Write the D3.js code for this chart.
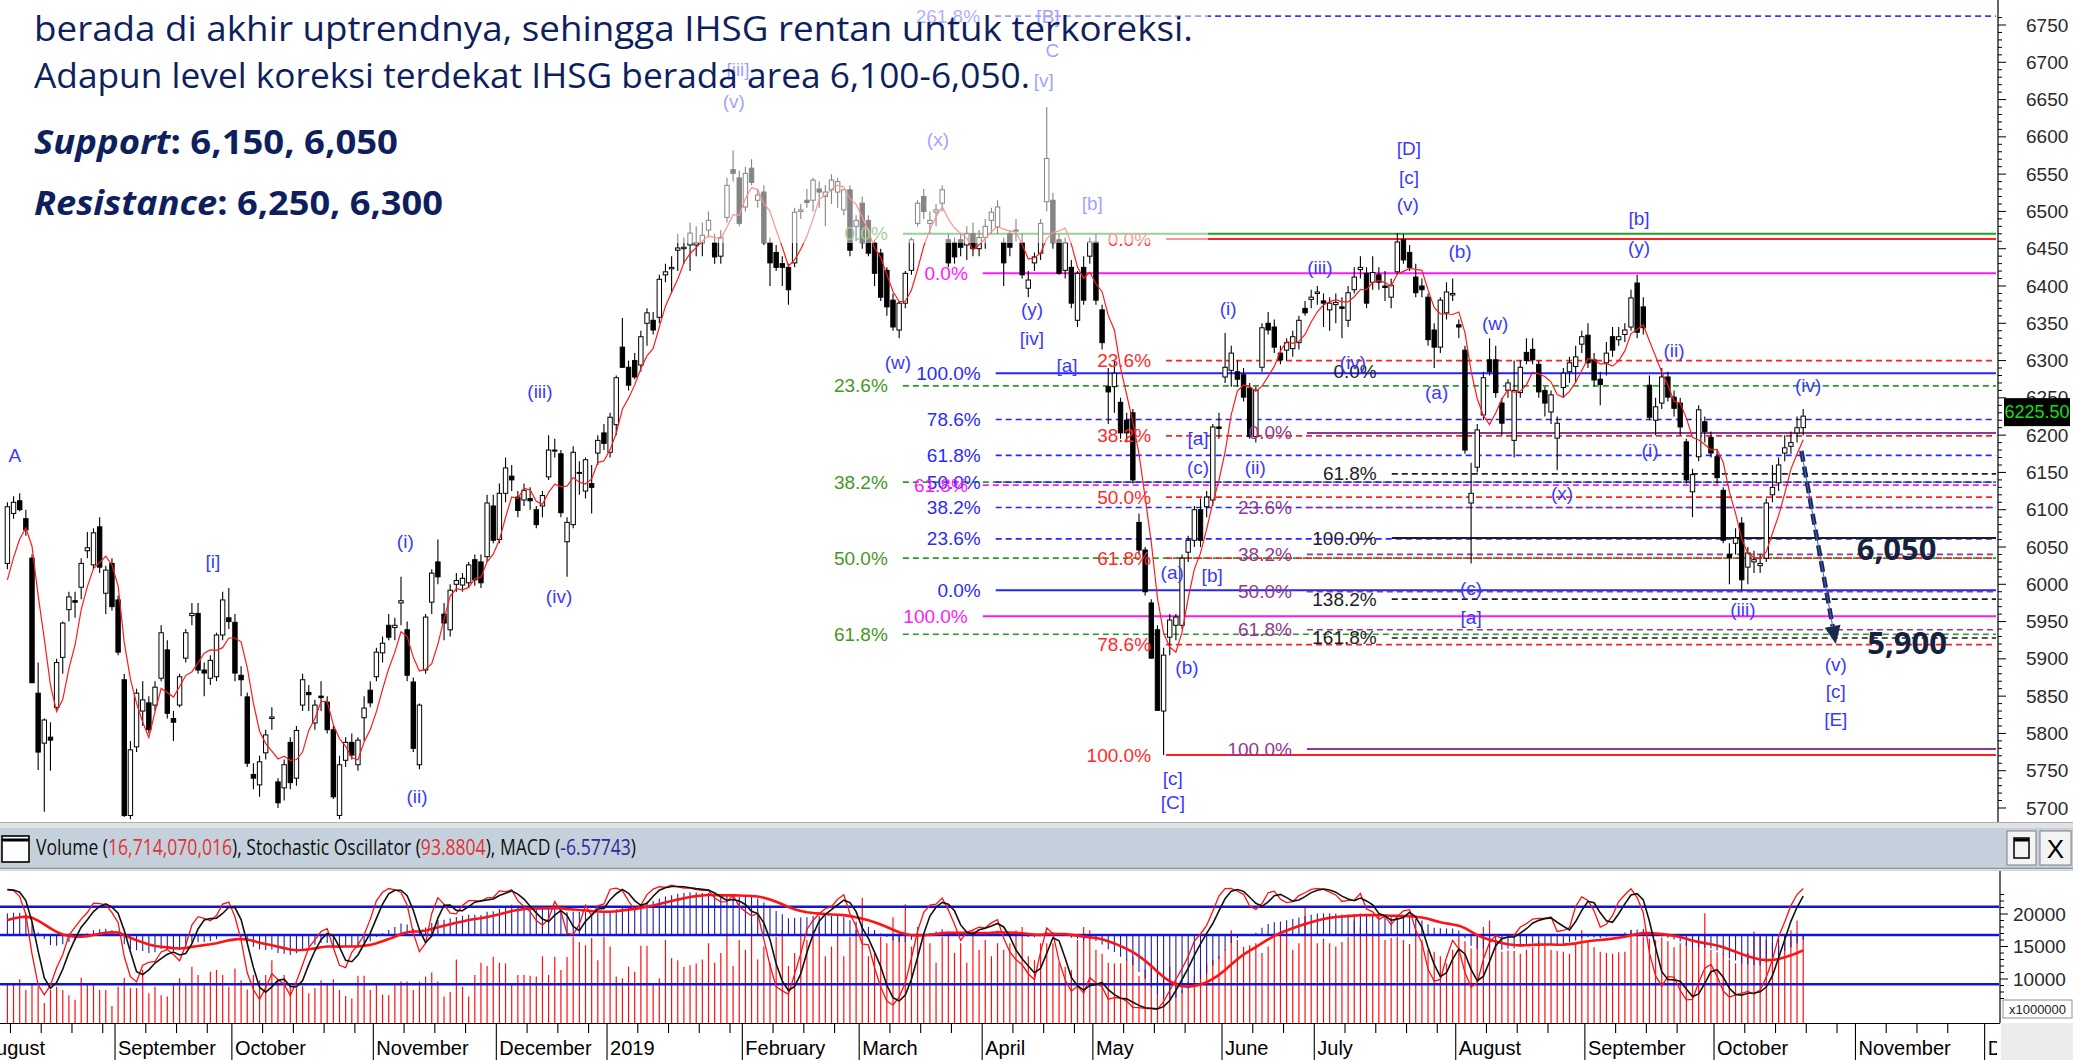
<!DOCTYPE html>
<html><head><meta charset="utf-8"><title>IHSG</title>
<script src="https://cdn.jsdelivr.net/npm/d3@7/dist/d3.min.js"></script>
<style>html,body{margin:0;padding:0;background:#fff;overflow:hidden}svg{display:block}</style>
</head><body>
<svg id="chart" width="2073" height="1060" xmlns="http://www.w3.org/2000/svg"></svg>
<script>
// ---------------- DATA ----------------
// daily candles [open, high, low, close], trading-day index 0..292 (Aug 2018 - 18 Oct 2019)
const ohlc = [
[6028,6110,6020,6104],[6095,6118,6088,6110],[6112,6122,6098,6100],[6088,6100,6065,6073],[6035,6040,5868,5868],
[5854,5895,5751,5775],[5787,5820,5695,5818],[5795,5815,5750,5791],[5835,5900,5830,5895],[5902,5950,5880,5948],
[5966,5990,5950,5983],[5978,5990,5955,5976],[5996,6035,5980,6028],[6045,6070,6035,6049],[6026,6075,6020,6069],
[6077,6090,6015,6023],[5988,6025,5960,6019],[6028,6035,5965,5970],[5979,5985,5905,5909],[5872,5880,5688,5690],
[5690,5790,5685,5778],[5782,5860,5775,5854],[5830,5870,5810,5845],[5841,5850,5800,5805],[5838,5870,5830,5862],
[5874,5945,5870,5935],[5912,5925,5820,5827],[5820,5830,5790,5815],[5838,5880,5835,5876],[5901,5940,5895,5935],
[5958,5975,5945,5961],[5961,5975,5880,5885],[5885,5895,5850,5881],[5874,5905,5865,5898],[5876,5935,5870,5932],
[5932,5990,5925,5979],[5955,5995,5940,5950],[5949,5960,5870,5881],[5878,5890,5850,5872],[5849,5855,5755,5760],
[5745,5760,5725,5740],[5731,5770,5715,5762],[5774,5805,5765,5798],[5820,5835,5805,5822],[5735,5740,5700,5707],
[5727,5765,5710,5758],[5788,5795,5725,5734],[5740,5810,5730,5804],[5838,5880,5830,5872],[5855,5865,5830,5852],
[5814,5845,5805,5838],[5850,5870,5830,5848],[5842,5850,5800,5805],[5805,5810,5712,5715],[5690,5770,5685,5758],
[5764,5795,5755,5788],[5788,5800,5765,5771],[5758,5795,5750,5791],[5821,5850,5790,5834],[5858,5870,5835,5841],
[5876,5915,5870,5909],[5908,5930,5895,5921],[5945,5960,5925,5929],[5942,5955,5925,5945],[5975,6010,5945,5978],
[5939,5950,5870,5878],[5869,5875,5775,5780],[5758,5840,5752,5838],[5885,5960,5880,5956],[5976,6020,5960,6015],
[6030,6060,6000,6010],[5960,5975,5925,5948],[5939,6000,5930,5992],[6000,6015,5990,6005],[5999,6015,5990,6008],
[6002,6030,5995,6026],[6033,6040,5998,6006],[6030,6040,5995,6002],[6037,6120,6030,6109],[6105,6120,6055,6059],
[6060,6135,6055,6122],[6122,6170,6110,6156],[6145,6160,6125,6140],[6117,6125,6090,6099],[6113,6135,6105,6126],
[6115,6130,6100,6112],[6100,6105,6075,6080],[6105,6125,6090,6119],[6144,6200,6140,6180],[6180,6195,6170,6180],
[6175,6180,6090,6096],[6057,6090,6010,6083],[6080,6185,6075,6177],[6150,6165,6120,6149],[6125,6170,6115,6167],
[6135,6160,6095,6130],[6176,6200,6160,6193],[6203,6215,6180,6189],[6177,6230,6170,6224],[6214,6280,6200,6277],
[6318,6357,6290,6291],[6291,6300,6260,6267],[6300,6310,6275,6278],[6294,6340,6285,6332],[6350,6370,6320,6364],
[6354,6365,6335,6341],[6358,6415,6350,6409],[6415,6430,6405,6419],[6423,6440,6390,6425],[6448,6470,6420,6451],
[6450,6465,6430,6452],[6455,6485,6420,6471],[6455,6480,6440,6458],[6458,6485,6440,6468],[6475,6500,6465,6488],
[6458,6470,6430,6439],[6440,6475,6430,6465],[6492,6545,6485,6535],[6556,6582,6540,6551],[6545,6555,6480,6484],
[6506,6560,6500,6551],[6558,6570,6535,6539],[6515,6530,6505,6522],[6526,6535,6455,6458],[6458,6465,6400,6431],
[6445,6455,6420,6425],[6430,6440,6400,6425],[6425,6430,6375,6395],[6431,6505,6425,6499],[6500,6510,6490,6502],
[6515,6530,6505,6512],[6515,6545,6500,6542],[6530,6540,6505,6526],[6520,6535,6480,6526],[6529,6550,6510,6542],
[6526,6545,6505,6540],[6502,6530,6495,6529],[6529,6535,6440,6448],[6480,6495,6460,6488],[6511,6520,6450,6458],
[6488,6495,6440,6444],[6458,6462,6400,6417],[6444,6450,6380,6385],[6421,6425,6360,6372],[6381,6390,6340,6345],
[6341,6380,6330,6377],[6377,6420,6370,6417],[6421,6465,6415,6462],[6484,6515,6480,6511],[6520,6530,6490,6500],
[6484,6500,6470,6488],[6499,6510,6480,6502],[6511,6535,6500,6529],[6462,6470,6425,6431],[6458,6465,6430,6439],
[6462,6470,6440,6452],[6455,6480,6435,6470],[6470,6485,6440,6450],[6450,6475,6440,6465],[6465,6490,6450,6480],
[6488,6505,6470,6499],[6479,6515,6470,6506],[6458,6465,6400,6431],[6470,6475,6440,6452],[6475,6490,6460,6475],
[6458,6470,6410,6415],[6397,6420,6385,6408],[6431,6445,6420,6439],[6444,6490,6435,6484],[6513,6640,6500,6571],
[6515,6525,6450,6458],[6462,6470,6415,6417],[6421,6465,6410,6458],[6425,6435,6370,6377],[6354,6420,6345,6417],
[6425,6440,6375,6381],[6440,6465,6430,6459],[6459,6470,6375,6381],[6368,6375,6315,6324],[6265,6290,6215,6258],
[6265,6300,6230,6283],[6244,6250,6195,6203],[6220,6230,6190,6203],[6230,6235,6135,6140],[6083,6095,6040,6046],
[6046,6050,5985,5990],[5975,5980,5900,5901],[5939,5945,5830,5831],[5830,5915,5771,5905],[5929,5960,5905,5952],
[5945,5960,5925,5956],[5945,6040,5940,6035],[6043,6065,6030,6059],[6059,6105,6050,6100],[6100,6115,6050,6059],
[6104,6125,6090,6117],[6113,6215,6105,6211],[6211,6230,6195,6209],[6278,6337,6270,6291],[6287,6320,6265,6310],
[6285,6300,6265,6275],[6281,6290,6245,6251],[6263,6270,6195,6198],[6198,6265,6190,6260],[6291,6350,6285,6344],
[6350,6365,6335,6341],[6345,6355,6310,6318],[6310,6320,6295,6301],[6314,6330,6300,6324],[6316,6340,6305,6332],
[6324,6360,6315,6354],[6370,6380,6360,6364],[6382,6395,6370,6385],[6390,6400,6375,6392],[6380,6390,6345,6377],
[6368,6385,6340,6377],[6375,6390,6350,6378],[6372,6385,6330,6370],[6354,6400,6345,6391],[6395,6425,6390,6412],
[6422,6440,6410,6425],[6417,6425,6370,6377],[6405,6440,6395,6418],[6415,6425,6395,6405],[6400,6420,6380,6398],
[6385,6410,6370,6401],[6419,6471,6415,6459],[6462,6470,6430,6435],[6445,6455,6420,6425],[6412,6430,6385,6391],
[6400,6410,6385,6395],[6385,6390,6320,6328],[6341,6350,6290,6318],[6318,6385,6310,6381],[6364,6405,6355,6392],
[6388,6410,6380,6390],[6348,6355,6330,6345],[6314,6320,6175,6180],[6109,6163,6028,6122],[6157,6215,6150,6207],
[6227,6285,6220,6277],[6301,6330,6280,6285],[6301,6320,6250,6257],[6243,6250,6200,6216],[6260,6275,6250,6270],
[6193,6300,6170,6260],[6257,6300,6250,6291],[6311,6330,6295,6300],[6315,6330,6295,6301],[6295,6300,6250,6258],
[6260,6265,6225,6243],[6231,6260,6215,6254],[6196,6225,6153,6216],[6264,6290,6250,6283],[6285,6305,6270,6297],
[6292,6320,6270,6305],[6322,6340,6310,6332],[6334,6350,6290,6297],[6301,6310,6265,6274],[6275,6285,6240,6268],
[6297,6325,6280,6310],[6332,6345,6305,6314],[6328,6345,6320,6332],[6335,6350,6325,6341],[6345,6395,6340,6384],
[6404,6415,6330,6338],[6372,6385,6335,6344],[6267,6280,6220,6224],[6220,6250,6200,6238],[6243,6290,6235,6278],
[6278,6285,6245,6251],[6251,6260,6225,6236],[6243,6250,6200,6211],[6191,6195,6135,6140],[6124,6155,6090,6147],
[6171,6240,6165,6234],[6218,6225,6190,6205],[6197,6205,6170,6176],[6171,6180,6135,6143],[6126,6130,6055,6059],
[6040,6055,6000,6036],[6055,6075,6040,6062],[6082,6090,5992,6006],[6023,6050,6000,6042],[6030,6045,6015,6033],
[6025,6040,6015,6028],[6035,6115,6030,6109],[6120,6160,6110,6130],[6136,6170,6125,6160],[6176,6200,6165,6183],
[6185,6205,6175,6190],[6203,6225,6190,6210],[6210,6235,6200,6225.5]
];
const priorCloses = [5960, 5975, 6000, 5990];      // closes just before the first visible day (for the MA)
const macdSeed = [6030, 5985, 30];                  // EMA12, EMA26, signal before the first visible day
// volume, millions of shares
const volume = [
9300,9300,9950,8300,9300,8800,6300,8300,8800,8300,7500,6800,10200,9100,9100,8300,8300,5850,8800,10200,
8600,8600,11400,7800,8800,7500,7300,9100,10100,9100,11900,10600,9100,11100,11400,10600,8800,11600,9800,8400,
10600,9800,10600,12900,9600,10600,9100,8600,8900,7800,8600,9800,9100,9950,8300,7400,7000,10500,10500,8300,
9300,7600,7500,9300,9600,9600,8300,9600,10400,11000,9600,7300,8000,13000,8800,7300,10600,12500,12000,13400,
12500,12400,9300,10600,10600,10500,10400,13500,10600,13400,11400,13400,16500,15700,15200,16300,12900,16500,15000,10400,
10100,11900,11100,15100,15100,9100,10100,16000,13200,12900,11900,12100,12400,
13000,15500,12500,14000,17000,12000,16000,14500,18500,13000,15000,12500,16500,17500,12000,14000,17000,16000,17500,18000,
13500,15000,17000,13500,16500,17500,22500,13500,14000,16500,15500,19500,17000,21500,15000,18000,17000,15500,12500,16500,
17000,14000,15500,12500,17500,14500,16000,13500,15500,
14500,15500,17500,18000,13500,12900,15500,15500,15500,12500,11900,11400,16000,18000,17500,14500,13900,12500,12400,12400,
13000,13400,10500,11500,12400,11000,10400,11900,9500,8300,9500,10400,11500,12400,12900,13500,14500,17500,16000,14970,
15200,15500,14000,15000,16500,17000,17500,14500,15500,21000,17000,15500,16200,15500,15000,15700,16500,19000,18000,17500,
17000,16700,16000,16300,16500,16000,15400,17500,16000,14500,14200,13500,12400,14500,16800,15800,14700,16500,18000,19000,
16000,14200,14400,14300,13900,14500,14900,15800,15500,14500,14300,14200,13900,15500,17500,16000,14900,14200,14000,13900,
14100,14200,17500,17000,16500,16200,16000,16400,15800,14900,15500,15600,15000,16500,20100,14500,14100,13900,13000,12400,
13500,14000,17300,16800,16000,15600,15200,16900,17500,19000,16714
];
const monthLabels = ["August","September","October","November","December","2019","February","March","April","May","June","July","August","September","October","November","December"];
const monthStart  = [-4,18,37,60,80,98,120,139,159,177,198,213,236,257,278,301,322];
const volTicks = [10000, 15000, 20000];
const lastPrice = 6225.50;
const headerValues = ["16,714,070,016", "93.8804", "-6.57743"];

// Fibonacci studies: anchor = trading-day index where the lines start
const fibGreen   = {anchor:145.6, pct:["0.0%","23.6%","38.2%","50.0%","61.8%"], price:[6470,6266,6137,6035,5933]};
const fibBlue    = {anchor:160.7, pct:["100.0%","78.6%","61.8%","50.0%","38.2%","23.6%","0.0%"], price:[6283,6221,6173,6137,6103,6061,5992]};
const fibMagenta = {anchor:158.6, pct:["0.0%","61.8%","100.0%"], price:[6417,6133,5957]};
const fibRed     = {anchor:188.4, pct:["0.0%","23.6%","38.2%","50.0%","61.8%","78.6%","100.0%"], price:[6463,6300,6199,6117,6035,5919,5771]};
const fibPurple  = {anchor:211.3, pct:["0.0%","23.6%","38.2%","50.0%","61.8%","100.0%"], price:[6203,6103,6040,5990,5939,5779]};
const fibBlack   = {anchor:225.1, pct:["0.0%","61.8%","100.0%","138.2%","161.8%"], price:[6285,6148,6062,5980,5928], noLine:["0.0%"]};
const fibTop     = {anchor:160.6, pct:["261.8%"], price:[6762]};

// Elliott wave labels
const waveText  = ["A","[i]","(i)","(ii)","(iii)","(iv)","[iii]","(v)","(x)","[B]","C","[v]","[b]","(y)","[iv]","(w)","[a]","[a]","(c)","(a)","[b]","(b)","[c]","[C]","(i)","(ii)","(iii)","(iv)","[D]","[c]","(v)","(b)","(a)","(w)","(c)","[a]","(x)","[b]","(y)","(ii)","(i)","(iii)","(iv)","(v)","[c]","[E]"];
const waveIdx   = [1.2,33.4,64.7,66.6,86.6,89.7,118.8,118.1,151.3,169.2,169.9,168.5,176.4,166.6,166.6,144.8,172.3,193.6,193.6,189.4,195.9,191.8,189.5,189.5,198.5,202.9,213.4,218.8,227.9,227.9,227.7,236.2,232.4,241.9,238.0,238.0,252.8,265.3,265.3,271.0,267.1,282.2,292.8,297.3,297.3,297.3];
const wavePrice = [6173,6030,6057,5715,6258,5984,6690,6647,6596,6761,6716,6676,6510,6368,6330,6298,6294,6196,6156,6016,6012,5889,5740,5707,6370,6156,6425,6298,6585,6546,6509,6446,6257,6350,5995,5956,6122,6491,6451,6314,6180,5966,6267,5893,5856,5819];

const targetText  = ["6,050", "5,900"];
const targetIdx   = [300.7, 302.4];
const targetPrice = [6049, 5923];
const arrowFrom = [291.7, 6179], arrowTo = [297.3, 5920];

const noteLines = [
  "berada di akhir uptrendnya, sehingga IHSG rentan untuk terkoreksi.",
  "Adapun level koreksi terdekat IHSG berada area 6,100-6,050."
];
const supportText = ["Support", ": 6,150, 6,050"];
const resistText  = ["Resistance", ": 6,250, 6,300"];

// ---------------- DRAWING ----------------
const W = 2073, H = 1060, PR = 1996, PB = 822;
const FONT = "'Liberation Sans', Arial, sans-serif";
const svg = d3.select("#chart");
svg.append("rect").attr("width", W).attr("height", H).attr("fill", "#fff");

const x = d3.scaleLinear().domain([0, 292]).range([7.4, 7.4 + 6.15 * 292]);
const y = d3.scaleLinear().domain([5700, 6750]).range([808, 25]);

const defs = svg.append("defs");
defs.append("clipPath").attr("id", "clipP").append("rect").attr("x", 0).attr("y", 0).attr("width", PR + 1).attr("height", PB);
defs.append("clipPath").attr("id", "clipI").append("rect").attr("x", 0).attr("y", 871).attr("width", PR + 3).attr("height", 152);
defs.append("clipPath").attr("id", "clipA").append("rect").attr("x", 0).attr("y", 1023).attr("width", PR + 1).attr("height", 37);

const gP = svg.append("g").attr("clip-path", "url(#clipP)");

const fibStyles = [
  [fibGreen,   "#24a024", "#43991e"],
  [fibBlue,    "#2424ff", "#2a2aff"],
  [fibMagenta, "#ff18ff", "#ff18ff"],
  [fibRed,     "#ff2020", "#ff2a2a"],
  [fibPurple,  "#8e3a8e", "#8e3a8e"],
  [fibBlack,   "#1e1e1e", "#1e1e1e"],
  [fibTop,     "#3a3aff", "#5a5aff"]
];
// fib lines
fibStyles.forEach(([set, lc]) => {
  const g = gP.append("g");
  const x0 = x(set.anchor);
  set.pct.forEach((p, k) => {
    if (set.noLine && set.noLine.includes(p)) return;
    const solid = (p === "0.0%" || p === "100.0%");
    g.append("line").attr("x1", x0).attr("x2", PR).attr("y1", y(set.price[k])).attr("y2", y(set.price[k]))
      .attr("stroke", lc).attr("stroke-width", solid ? 2 : 1.7).attr("stroke-dasharray", solid ? null : "6,4");
  });
});

// candles
const cg = gP.append("g");
cg.selectAll("line").data(ohlc).join("line")
  .attr("x1", (d, i) => x(i)).attr("x2", (d, i) => x(i))
  .attr("y1", d => y(d[1])).attr("y2", d => y(d[2]))
  .attr("stroke", "#000").attr("stroke-width", 1.1);
cg.selectAll("rect").data(ohlc).join("rect")
  .attr("x", (d, i) => x(i) - 2.2).attr("width", 4.4)
  .attr("y", d => y(Math.max(d[0], d[3])))
  .attr("height", d => Math.max(1, Math.abs(y(d[0]) - y(d[3]))))
  .attr("fill", d => d[3] >= d[0] ? "#fff" : "#000")
  .attr("stroke", "#000").attr("stroke-width", 1);

// 5-day moving average
const closes = ohlc.map(d => d[3]);
const allC = priorCloses.concat(closes);
const ma5 = closes.map((c, i) => d3.mean(allC.slice(i, i + 5)));
gP.append("path").datum(ma5)
  .attr("d", d3.line().x((d, i) => x(i)).y(d => y(d)))
  .attr("fill", "none").attr("stroke", "#ff1a1a").attr("stroke-width", 1.2);

// fib labels
fibStyles.forEach(([set, lc, tc]) => {
  const xr = x(set.anchor) - 15;
  set.pct.forEach((p, k) => {
    gP.append("text").attr("x", xr).attr("y", y(set.price[k]))
      .attr("text-anchor", "end").attr("dominant-baseline", "central")
      .attr("font-family", FONT).attr("font-size", 19).attr("fill", tc).text(p);
  });
});

// wave labels
gP.append("g").selectAll("text").data(waveText).join("text")
  .attr("x", (d, k) => x(waveIdx[k])).attr("y", (d, k) => y(wavePrice[k]))
  .attr("text-anchor", "middle").attr("dominant-baseline", "central")
  .attr("font-family", FONT).attr("font-size", 19).attr("fill", "#3a3aff").text(d => d);

// translucent commentary box
gP.append("rect").attr("x", 0).attr("y", 0).attr("width", 1208).attr("height", 243).attr("fill", "#fff").attr("opacity", 0.52);

// commentary text
const NAVY = "#0f1f5e";
svg.append("text").attr("x", 34).attr("y", 41).attr("font-family", "'Open Sans', sans-serif").attr("font-size", 35)
  .attr("fill", NAVY).attr("textLength", 1159).attr("lengthAdjust", "spacingAndGlyphs").text(noteLines[0]);
svg.append("text").attr("x", 34).attr("y", 88).attr("font-family", "'Open Sans', sans-serif").attr("font-size", 35)
  .attr("fill", NAVY).attr("textLength", 996).attr("lengthAdjust", "spacingAndGlyphs").text(noteLines[1]);
[[supportText, 154, 364], [resistText, 215, 409]].forEach(([t, yy, len]) => {
  const el = svg.append("text").attr("x", 34).attr("y", yy).attr("font-family", "'Open Sans', sans-serif")
    .attr("font-size", 34).attr("font-weight", 700).attr("fill", NAVY)
    .attr("textLength", len).attr("lengthAdjust", "spacingAndGlyphs");
  el.append("tspan").attr("font-style", "italic").text(t[0]);
  el.append("tspan").text(t[1]);
});

// target arrow and levels
const ax0 = x(arrowFrom[0]), ay0 = y(arrowFrom[1]), ax1 = x(arrowTo[0]), ay1 = y(arrowTo[1]);
const ang = Math.atan2(ay1 - ay0, ax1 - ax0);
const hl = 18, hw = 8;
const bx = ax1 - hl * Math.cos(ang), by = ay1 - hl * Math.sin(ang);
svg.append("line").attr("x1", ax0).attr("y1", ay0).attr("x2", bx).attr("y2", by)
  .attr("stroke", "#1b2a4c").attr("stroke-width", 4.5).attr("stroke-dasharray", "11,5");
svg.append("line").attr("x1", ax0).attr("y1", ay0).attr("x2", bx).attr("y2", by)
  .attr("stroke", "#3b5bd8").attr("stroke-width", 1);
svg.append("path")
  .attr("d", `M${ax1},${ay1}L${bx + hw * Math.sin(ang)},${by - hw * Math.cos(ang)}L${bx - hw * Math.sin(ang)},${by + hw * Math.cos(ang)}Z`)
  .attr("fill", "#1b2a4c");
targetText.forEach((t, k) => {
  svg.append("text").attr("x", x(targetIdx[k])).attr("y", y(targetPrice[k]))
    .attr("dominant-baseline", "central").attr("font-family", "'Open Sans', sans-serif")
    .attr("font-size", 31).attr("font-weight", 700).attr("fill", "#15213f").text(t);
});

// price axis
const ag = svg.append("g").attr("transform", "translate(1998,0)");
ag.append("line").attr("y1", 0).attr("y2", PB).attr("stroke", "#000").attr("stroke-width", 1.2);
d3.range(5700, 6761, 10).forEach(v => {
  const major = v % 50 === 0;
  ag.append("line").attr("x1", 0).attr("x2", major ? 8 : 4).attr("y1", y(v)).attr("y2", y(v)).attr("stroke", "#000");
  if (major && v <= 6750) ag.append("text").attr("x", 28).attr("y", y(v)).attr("dominant-baseline", "central")
    .attr("font-family", FONT).attr("font-size", 19).attr("fill", "#2a2a2a").text(v);
});
ag.append("rect").attr("x", 6).attr("y", y(lastPrice) - 18).attr("width", 66).attr("height", 28).attr("fill", "#000");
ag.append("text").attr("x", 39).attr("y", y(lastPrice) - 4).attr("text-anchor", "middle").attr("dominant-baseline", "central")
  .attr("font-family", FONT).attr("font-size", 18).attr("fill", "#10e010").text(lastPrice.toFixed(2));

// separator and indicator header
svg.append("rect").attr("x", 0).attr("y", PB).attr("width", W).attr("height", 6).attr("fill", "#e2e2e2");
svg.append("line").attr("x1", 0).attr("x2", W).attr("y1", PB + 0.5).attr("y2", PB + 0.5).attr("stroke", "#b0b0b0");
svg.append("rect").attr("x", 0).attr("y", 828).attr("width", W).attr("height", 40).attr("fill", "#c5d0dd");
svg.append("line").attr("x1", 0).attr("x2", W).attr("y1", 868.5).attr("y2", 868.5).attr("stroke", "#8a949e").attr("stroke-width", 1.6);
svg.append("line").attr("x1", 0).attr("x2", W).attr("y1", 870.5).attr("y2", 870.5).attr("stroke", "#cfd4da");
svg.append("rect").attr("x", 2).attr("y", 836).attr("width", 27).attr("height", 26).attr("fill", "#fff").attr("stroke", "#000").attr("stroke-width", 1.6);
svg.append("line").attr("x1", 2).attr("x2", 29).attr("y1", 840).attr("y2", 840).attr("stroke", "#000").attr("stroke-width", 3);
const ht = svg.append("text").attr("x", 36).attr("y", 855).attr("font-family", "'Open Sans', sans-serif").attr("font-size", 21)
  .attr("fill", "#111").attr("textLength", 600).attr("lengthAdjust", "spacingAndGlyphs");
ht.append("tspan").text("Volume (");
ht.append("tspan").attr("fill", "#e33030").text(headerValues[0]);
ht.append("tspan").text("), Stochastic Oscillator (");
ht.append("tspan").attr("fill", "#e33030").text(headerValues[1]);
ht.append("tspan").text("), MACD (");
ht.append("tspan").attr("fill", "#2b2b9c").text(headerValues[2]);
ht.append("tspan").text(")");
// window buttons
svg.append("rect").attr("x", 2007).attr("y", 831).attr("width", 29).attr("height", 34).attr("fill", "#f3f3f3").attr("stroke", "#808080");
svg.append("rect").attr("x", 2014).attr("y", 838).attr("width", 15).attr("height", 20).attr("fill", "none").attr("stroke", "#000").attr("stroke-width", 1.5);
svg.append("line").attr("x1", 2014).attr("x2", 2029).attr("y1", 840).attr("y2", 840).attr("stroke", "#000").attr("stroke-width", 3);
svg.append("rect").attr("x", 2040).attr("y", 831).attr("width", 31).attr("height", 34).attr("fill", "#f3f3f3").attr("stroke", "#808080");
svg.append("text").attr("x", 2055.5).attr("y", 858).attr("text-anchor", "middle").attr("font-family", FONT).attr("font-size", 26).attr("fill", "#000").text("X");

// ---------------- INDICATORS ----------------
// stochastic (14,3,3)
const rawK = ohlc.map((d, i) => {
  const w = ohlc.slice(Math.max(0, i - 13), i + 1);
  const hh = d3.max(w, e => e[1]), ll = d3.min(w, e => e[2]);
  return hh === ll ? 50 : (d[3] - ll) / (hh - ll) * 100;
});
const smaN = (arr, n) => arr.map((v, i) => d3.mean(arr.slice(Math.max(0, i - n + 1), i + 1)));
const stochK = smaN(rawK, 3), stochD = smaN(stochK, 3);
// MACD (12,26,9)
let e12 = macdSeed[0], e26 = macdSeed[1], sg = macdSeed[2];
const macd = [], signal = [];
closes.forEach(c => {
  e12 += (c - e12) * 2 / 13; e26 += (c - e26) * 2 / 27;
  const m = e12 - e26; sg += (m - sg) * 2 / 10;
  macd.push(m); signal.push(sg);
});

const yVol = d3.scaleLinear().domain([10000, 20000]).range([979, 914]);
const yStoch = d3.scaleLinear().domain([0, 100]).range([1010, 881]);
const yMacd = d3.scaleLinear().domain([0, 100]).range([935, 890]);

const gI = svg.append("g").attr("clip-path", "url(#clipI)");
gI.append("g").selectAll("line").data(volume).join("line")
  .attr("x1", (d, i) => x(i)).attr("x2", (d, i) => x(i)).attr("y1", 1024).attr("y2", d => yVol(d))
  .attr("stroke", "#ff1010").attr("stroke-width", 1.2);
gI.append("g").selectAll("line").data(macd).join("line")
  .attr("x1", (d, i) => x(i)).attr("x2", (d, i) => x(i)).attr("y1", yMacd(0)).attr("y2", d => yMacd(d))
  .attr("stroke", "#1e1ea6").attr("stroke-width", 1.1);
[yStoch(80), yMacd(0), yStoch(20)].forEach(v => {
  gI.append("line").attr("x1", 0).attr("x2", PR + 4).attr("y1", v).attr("y2", v).attr("stroke", "#1414d8").attr("stroke-width", 2.6);
});
gI.append("path").datum(signal).attr("d", d3.line().x((d, i) => x(i)).y(d => yMacd(d)))
  .attr("fill", "none").attr("stroke", "#ff1414").attr("stroke-width", 2.6);
gI.append("path").datum(stochK).attr("d", d3.line().x((d, i) => x(i)).y(d => yStoch(d)))
  .attr("fill", "none").attr("stroke", "#ff1010").attr("stroke-width", 1.3);
gI.append("path").datum(stochD).attr("d", d3.line().x((d, i) => x(i)).y(d => yStoch(d)))
  .attr("fill", "none").attr("stroke", "#111").attr("stroke-width", 1.6);

// indicator axis
const ig = svg.append("g").attr("transform", "translate(2000,0)");
ig.append("line").attr("y1", 871).attr("y2", 1023).attr("stroke", "#000").attr("stroke-width", 1.2);
d3.range(7000, 24000, 1000).forEach(v => {
  const yy = yVol(v);
  if (yy < 873 || yy > 1000) return;
  const major = volTicks.includes(v);
  ig.append("line").attr("x1", 0).attr("x2", major ? 8 : 4).attr("y1", yy).attr("y2", yy).attr("stroke", "#000");
  if (major) ig.append("text").attr("x", 13).attr("y", yy).attr("dominant-baseline", "central")
    .attr("font-family", FONT).attr("font-size", 19).attr("fill", "#2a2a2a").text(v);
});
ig.append("rect").attr("x", 3).attr("y", 1000).attr("width", 69).attr("height", 18).attr("fill", "#fff").attr("stroke", "#909090");
ig.append("text").attr("x", 37.5).attr("y", 1009.5).attr("text-anchor", "middle").attr("dominant-baseline", "central")
  .attr("font-family", FONT).attr("font-size", 13).attr("fill", "#222").text("x1000000");

// time axis
svg.append("rect").attr("x", 2001).attr("y", 1023).attr("width", 72).attr("height", 37).attr("fill", "#ececec");
svg.append("line").attr("x1", 0).attr("x2", 2000).attr("y1", 1023.5).attr("y2", 1023.5).attr("stroke", "#000").attr("stroke-width", 1.2);
const tg = svg.append("g").attr("clip-path", "url(#clipA)");
monthStart.forEach((s, k) => {
  const tx = x(s - 0.5);
  tg.append("line").attr("x1", tx).attr("x2", tx).attr("y1", 1023).attr("y2", 1060).attr("stroke", "#000").attr("stroke-width", 1.1);
  tg.append("text").attr("x", tx + 3).attr("y", 1055).attr("font-family", FONT).attr("font-size", 20).attr("fill", "#000").text(monthLabels[k]);
  const e = k + 1 < monthStart.length ? monthStart[k + 1] : s + 22;
  for (let w = s + 5; w < e - 1; w += 5) {
    const wx = x(w - 0.5);
    tg.append("line").attr("x1", wx).attr("x2", wx).attr("y1", 1023).attr("y2", 1033).attr("stroke", "#000").attr("stroke-width", 1.1);
  }
});
</script>
</body></html>
